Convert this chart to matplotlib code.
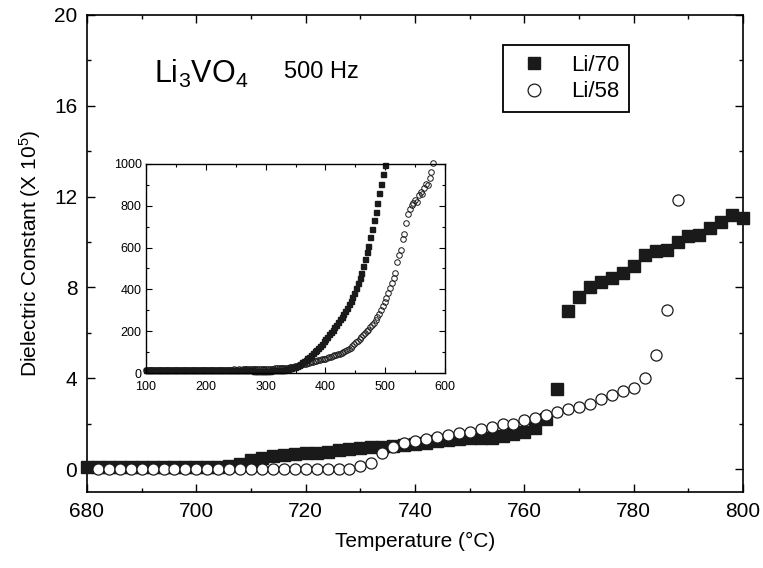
import numpy as np
import matplotlib
matplotlib.use("Agg")
from matplotlib import pyplot as plt
from matplotlib.ticker import MultipleLocator

plt.rcParams['font.family'] = ['Liberation Sans', 'DejaVu Sans']
plt.rcParams['mathtext.fontset'] = 'custom'
plt.rcParams['mathtext.rm'] = 'Liberation Sans'
plt.rcParams['mathtext.default'] = 'regular'

# main plot, 500 Hz, dielectric constant in units of 1e5
temp_li70 = np.arange(680, 801, 2)
eps_li70 = [0.08, 0.08, 0.08, 0.08, 0.08, 0.08, 0.08, 0.08, 0.08, 0.08, 0.08, 0.08,
            0.10, 0.15, 0.22, 0.40, 0.50, 0.57, 0.62, 0.66, 0.69, 0.72, 0.76, 0.84,
            0.87, 0.91, 0.96, 0.98, 1.03, 1.06, 1.10, 1.16, 1.22, 1.28, 1.31, 1.35,
            1.38, 1.38, 1.45, 1.54, 1.62, 1.79, 2.23, 3.52,
            6.96, 7.56, 8.03, 8.22, 8.41, 8.65, 8.96, 9.43, 9.60, 9.66, 10.01, 10.26,
            10.31, 10.62, 10.87, 11.19, 11.07]

temp_li58 = np.arange(682, 789, 2)
eps_li58 = [0.0] * 24 + [0.13, 0.29, 0.72, 0.98, 1.13, 1.22, 1.32, 1.42, 1.50, 1.57,
                         1.64, 1.75, 1.84, 1.98, 2.01, 2.16, 2.25, 2.38, 2.50, 2.63,
                         2.74, 2.89, 3.08, 3.26, 3.44, 3.58, 4.02, 5.02, 7.00, 11.85]

# inset (low temperature, 100-600 C)
ins_li70 = [13, 12, 13, 12, 12, 13, 12, 12, 13, 12, 12,
            12, 13, 12, 12, 12, 13, 12, 12, 12, 13, 12,
            12, 12, 12, 13, 12, 12, 12, 12, 13, 12, 12,
            12, 12, 12, 12, 13, 12, 12, 12, 12, 12, 13,
            12, 12, 12, 12, 12, 12, 13, 12, 12, 12, 12,
            12, 12, 12, 12, 12, 11, 11, 11, 11, 11, 11,
            11, 11, 11, 11, 12, 12, 12, 13, 13, 14, 15,
            16, 18, 20, 22, 25, 28, 31, 35, 40, 45, 51, 57, 63, 70, 77,
            85, 94, 103, 111, 120, 130, 140, 151, 162, 174, 186, 197, 208,
            219, 231, 243, 256, 269, 283, 297, 312, 328, 345, 364, 385, 407,
            430, 454, 480, 511, 545, 577, 610, 650, 690, 730, 770, 815, 860,
            905, 950, 995]
ins_li58 = [15, 16, 15, 15, 16, 15, 15, 16, 15, 15, 16,
            15, 15, 16, 15, 15, 16, 15, 15, 15, 16, 15,
            15, 16, 15, 15, 15, 16, 15, 15, 16, 15, 15,
            16, 15, 15, 16, 15, 16, 15, 16, 16, 15, 16,
            16, 16, 15, 16, 16, 17, 16, 16, 17, 16, 17,
            17, 17, 17, 18, 17, 18, 18, 18, 19, 18, 19,
            19, 20, 20, 20, 21, 21, 22, 22, 22, 23, 23, 23,
            24, 25, 27, 29, 31, 33, 35, 37, 39, 41, 43, 45, 47, 49, 51,
            54, 56, 58, 60, 62, 65, 67, 69, 72, 75, 78, 81, 84, 86, 89,
            93, 97, 100, 104, 108, 113, 120, 128, 138, 146, 155, 164, 173,
            182, 191, 199, 208, 218, 229, 240, 254, 268, 283, 300, 320, 338,
            360, 382, 405, 430, 455, 480, 530, 565, 590, 640, 665, 720, 760,
            785, 805, 815, 830, 820, 850, 865, 855, 885, 905, 900, 935, 960, 1005]
ins_t70 = np.arange(100, 100 + 3 * len(ins_li70), 3)
ins_t58 = np.arange(100, 100 + 3 * len(ins_li58), 3)

fig = plt.figure(figsize=(7.63, 5.68), dpi=100)
ax = fig.add_axes([0.114, 0.134, 0.860, 0.840])

ax.plot(temp_li70, eps_li70, 's', color='#1a1a1a', ms=8, mec='#1a1a1a', label='Li/70', clip_on=False, zorder=3)
ax.plot(temp_li58, eps_li58, 'o', color='#1a1a1a', mfc='white', ms=8, mew=0.9, label='Li/58', clip_on=False, zorder=4)

ax.set_xlim(680, 800)
ax.set_ylim(-1, 20)
ax.xaxis.set_major_locator(MultipleLocator(20))
ax.xaxis.set_minor_locator(MultipleLocator(10))
ax.yaxis.set_major_locator(MultipleLocator(4))
ax.yaxis.set_minor_locator(MultipleLocator(2))
ax.tick_params(which='both', direction='in', top=True, right=True, labelsize=15, width=1.0, pad=7)
ax.tick_params(which='major', length=6)
ax.tick_params(which='minor', length=3)
for s in ax.spines.values():
    s.set_linewidth(1.2)

ax.set_xlabel('Temperature (°C)', fontsize=15, labelpad=8)
ax.set_ylabel('Dielectric Constant (X 10$^5$)', fontsize=15, labelpad=8)

ax.text(692.3, 17.4, 'Li$_3$VO$_4$', fontsize=22, va='center', ha='left')
ax.text(716.0, 17.5, '500 Hz', fontsize=17, va='center', ha='left')

leg = ax.legend(loc='upper left', bbox_to_anchor=(0.634, 0.937), borderaxespad=0,
                fontsize=16, fancybox=False, edgecolor='black', framealpha=1,
                borderpad=0.45, handlelength=1.9, handletextpad=0.7, labelspacing=0.25,
                markerscale=1.15)
leg.get_frame().set_linewidth(1.3)

# inset
ins = fig.add_axes([0.1913, 0.3433, 0.392, 0.368])
ins.plot(ins_t70, ins_li70, 's', color='#1a1a1a', ms=3.6, clip_on=False)
ins.plot(ins_t58, ins_li58, 'o', color='#1a1a1a', mfc='none', ms=4, mew=0.7, clip_on=False)
ins.set_xlim(100, 600)
ins.set_ylim(0, 1000)
ins.xaxis.set_major_locator(MultipleLocator(100))
ins.xaxis.set_minor_locator(MultipleLocator(50))
ins.yaxis.set_major_locator(MultipleLocator(200))
ins.yaxis.set_minor_locator(MultipleLocator(100))
ins.tick_params(which='both', direction='in', top=True, right=True, labelsize=9, width=0.8)
ins.tick_params(axis='x', pad=6)
ins.tick_params(axis='y', pad=3)
ins.tick_params(which='major', length=4)
ins.tick_params(which='minor', length=2)
for s in ins.spines.values():
    s.set_linewidth(1.0)

fig.savefig('out.png', dpi=100)
